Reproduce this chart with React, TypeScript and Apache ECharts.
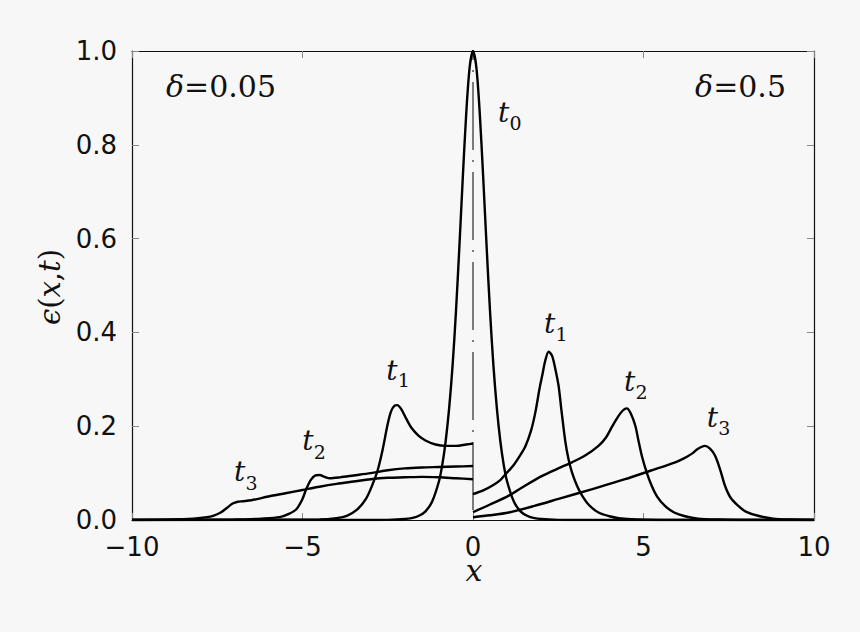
import React, { useEffect, useRef } from "react";
import * as echarts from "echarts";

// ---- data ----
const X_RANGE = [-10, 10];
const Y_RANGE = [0, 1];
const xTickValues = [-10, -5, 0, 5, 10];
const yTickValues = [0.0, 0.2, 0.4, 0.6, 0.8, 1.0];

// initial pulse t0 (both panels)
const t0: number[][] = [
  [-10, 0], [-3, 0], [-2.5, 0.0003], [-2.0, 0.002], [-1.8, 0.004], [-1.6, 0.0085], [-1.4, 0.018],
  [-1.2, 0.039], [-1.0, 0.082], [-0.9, 0.118], [-0.8, 0.169], [-0.7, 0.238], [-0.6, 0.328],
  [-0.5, 0.444], [-0.4, 0.582], [-0.3, 0.729], [-0.2, 0.865], [-0.1, 0.964], [0, 1.0],
  [0.1, 0.964], [0.2, 0.865], [0.3, 0.729], [0.4, 0.582], [0.5, 0.444], [0.6, 0.328],
  [0.7, 0.238], [0.8, 0.169], [0.9, 0.118], [1.0, 0.082], [1.2, 0.039], [1.4, 0.018],
  [1.6, 0.0085], [1.8, 0.004], [2.0, 0.002], [2.5, 0.0003], [3, 0], [10, 0],
];

// delta = 0.05 (left panel, x < 0)
const leftT1: number[][] = [
  [-10, 0], [-4.5, 0.001], [-4.0, 0.004], [-3.7, 0.009], [-3.4, 0.022], [-3.14, 0.045],
  [-2.95, 0.075], [-2.8, 0.105], [-2.65, 0.15], [-2.5, 0.205], [-2.4, 0.232], [-2.3, 0.244],
  [-2.22, 0.245], [-2.1, 0.236], [-1.95, 0.215], [-1.8, 0.196], [-1.6, 0.18], [-1.38, 0.169],
  [-1.1, 0.161], [-0.8, 0.158], [-0.5, 0.158], [-0.2, 0.161], [0, 0.163],
];
const leftT2: number[][] = [
  [-10, 0], [-7, 0.001], [-6.2, 0.003], [-5.67, 0.006], [-5.4, 0.013], [-5.18, 0.023],
  [-5.0, 0.045], [-4.89, 0.066], [-4.75, 0.086], [-4.62, 0.095], [-4.5, 0.096], [-4.35, 0.092],
  [-4.2, 0.089], [-3.9, 0.091], [-3.5, 0.095], [-3.0, 0.1], [-2.5, 0.106], [-2.0, 0.11],
  [-1.5, 0.112], [-1.0, 0.113], [-0.5, 0.114], [0, 0.115],
];
const leftT3: number[][] = [
  [-10, 0], [-8.8, 0.001], [-8.2, 0.003], [-7.8, 0.006], [-7.62, 0.009], [-7.4, 0.016],
  [-7.23, 0.025], [-7.05, 0.035], [-6.9, 0.039], [-6.75, 0.04], [-6.5, 0.042], [-6.0, 0.05],
  [-5.5, 0.057], [-5.0, 0.064], [-4.5, 0.071], [-4.0, 0.077], [-3.5, 0.082], [-3.0, 0.087],
  [-2.5, 0.09], [-2.0, 0.091], [-1.5, 0.092], [-1.0, 0.091], [-0.5, 0.089], [0, 0.087],
];

// delta = 0.5 (right panel, x > 0)
const rightT1: number[][] = [
  [0, 0.055], [0.3, 0.063], [0.56, 0.073], [0.8, 0.085], [0.96, 0.098], [1.2, 0.118],
  [1.4, 0.14], [1.54, 0.158], [1.7, 0.19], [1.83, 0.23], [1.95, 0.28], [2.03, 0.308],
  [2.12, 0.34], [2.22, 0.359], [2.32, 0.35], [2.42, 0.32], [2.51, 0.286], [2.6, 0.23],
  [2.71, 0.166], [2.8, 0.13], [2.9, 0.102], [3.05, 0.073], [3.2, 0.052], [3.4, 0.032],
  [3.68, 0.016], [4.0, 0.008], [4.27, 0.004], [4.8, 0.001], [5.5, 0], [10, 0],
];
const rightT2: number[][] = [
  [0, 0.017], [0.5, 0.033], [1.05, 0.052], [1.5, 0.072], [2.03, 0.094], [2.5, 0.11],
  [2.9, 0.123], [3.3, 0.138], [3.68, 0.158], [3.9, 0.176], [4.07, 0.198], [4.25, 0.22],
  [4.4, 0.234], [4.51, 0.238], [4.62, 0.228], [4.76, 0.201], [4.85, 0.17], [4.95, 0.137],
  [5.1, 0.1], [5.24, 0.073], [5.4, 0.05], [5.63, 0.03], [5.9, 0.016], [6.22, 0.008],
  [6.6, 0.003], [7.2, 0.001], [8, 0], [10, 0],
];
const rightT3: number[][] = [
  [0, 0.006], [0.5, 0.01], [1.05, 0.016], [1.8, 0.03], [2.51, 0.045], [3.5, 0.066],
  [4.46, 0.087], [5.2, 0.105], [5.93, 0.123], [6.2, 0.132], [6.41, 0.141], [6.6, 0.152],
  [6.8, 0.158], [6.95, 0.152], [7.1, 0.137], [7.25, 0.107], [7.39, 0.073], [7.55, 0.048],
  [7.78, 0.03], [8.0, 0.018], [8.36, 0.009], [8.8, 0.003], [9.3, 0.001], [10, 0],
];

// dash-dot separator at x = 0
const separator: number[][] = [[0, 1], [0, 0]];

const curveLabels = ["0", "1", "2", "3", "1", "2", "3"];
const panelLabels = ["0.05", "0.5"];

const BG = "#f7f7f7";
const SERIF = "DejaVu Serif";
const SANS = "DejaVu Sans";
const INK = "#111";

export default function App() {
  const ref = useRef<HTMLDivElement>(null);

  useEffect(() => {
    document.body.style.margin = "0";
    document.body.style.background = BG;
    const chart = echarts.init(ref.current!, undefined, { renderer: "svg" });

    const curve = (data: number[][]) => ({
      type: "line",
      data,
      showSymbol: false,
      symbol: "none",
      smooth: 0.3,
      lineStyle: { color: "#000", width: 2.4 },
      silent: true,
      z: 3,
    });

    const tickLabelStyle = { fontFamily: SANS, fontSize: 26, color: INK };

    // label placements (pixel layout): t-glyph x, t baseline, subscript baseline
    const tPos = [
      [499, 121.7, 130],
      [545, 333, 340.7],
      [625, 390.7, 398.3],
      [707.7, 426.7, 435],
      [387.3, 380, 386.7],
      [303.3, 450, 459],
      [235, 480.7, 490],
    ];
    const graphics: any[] = [];
    tPos.forEach((p, i) => {
      graphics.push({
        type: "text",
        x: p[0] - 1,
        y: p[1] - 9.7,
        style: {
          text: "t",
          fontFamily: SERIF,
          fontStyle: "italic",
          fontSize: 28,
          lineHeight: 22,
          fill: INK,
          align: "left",
          verticalAlign: "middle",
        },
      });
      graphics.push({
        type: "text",
        x: p[0] + 10.5,
        y: p[2] - 6.6,
        style: {
          text: curveLabels[i],
          fontFamily: SERIF,
          fontSize: 19,
          lineHeight: 15,
          fill: INK,
          align: "left",
          verticalAlign: "middle",
        },
      });
    });
    const deltaRich = {
      d: { fontFamily: SERIF, fontStyle: "italic", fontSize: 30, fill: INK },
      n: { fontFamily: SERIF, fontSize: 30, fill: INK },
    };
    graphics.push({
      type: "text",
      x: 166,
      y: 86.6,
      style: {
        text: `{d|δ}{n|=${panelLabels[0]}}`,
        rich: deltaRich,
        fontFamily: SERIF,
        fontSize: 30,
        align: "left",
        verticalAlign: "middle",
      },
    });
    graphics.push({
      type: "text",
      x: 786,
      y: 86.6,
      style: {
        text: `{d|δ}{n|=${panelLabels[1]}}`,
        rich: deltaRich,
        fontFamily: SERIF,
        fontSize: 30,
        align: "right",
        verticalAlign: "middle",
      },
    });
    // axis titles
    graphics.push({
      type: "text",
      x: 474,
      y: 570,
      style: {
        text: "x",
        fontFamily: SERIF,
        fontStyle: "italic",
        fontSize: 30,
        lineHeight: 18,
        fill: INK,
        align: "center",
        verticalAlign: "middle",
      },
    });
    const yRich = {
      i: { fontFamily: SERIF, fontStyle: "italic", fontSize: 29, fill: INK },
      r: { fontFamily: SERIF, fontSize: 29, fill: INK },
    };
    graphics.push({
      type: "text",
      x: 50,
      y: 287,
      rotation: Math.PI / 2,
      style: {
        text: "{i|ϵ}{r|(}{i|x}{r|,}{i|t}{r|)}",
        rich: yRich,
        fontFamily: SERIF,
        fontSize: 29,
        align: "center",
        verticalAlign: "middle",
      },
    });

    const tickCommon = { inside: true, length: 7, lineStyle: { color: "#888", width: 1 } };
    const lineCommon = { show: true, onZero: false, lineStyle: { color: "#111", width: 1.2 } };

    chart.setOption({
      animation: false,
      backgroundColor: BG,
      grid: { left: 132, right: 46, top: 51, bottom: 112, containLabel: false },
      xAxis: [
        {
          type: "value", min: X_RANGE[0], max: X_RANGE[1], interval: 5, position: "bottom",
          axisLine: lineCommon, axisTick: tickCommon, splitLine: { show: false },
          axisLabel: {
            ...tickLabelStyle, margin: 16, lineHeight: 22,
            formatter: (v: number) =>
              xTickValues.includes(v) ? (v < 0 ? "\u2212" + Math.abs(v) : String(v)) : "",
          },
        },
        {
          type: "value", min: X_RANGE[0], max: X_RANGE[1], interval: 5, position: "top",
          axisLine: lineCommon, axisTick: tickCommon, splitLine: { show: false },
          axisLabel: { show: false },
        },
      ],
      yAxis: [
        {
          type: "value", min: Y_RANGE[0], max: Y_RANGE[1], interval: 0.2, position: "left",
          axisLine: lineCommon, axisTick: tickCommon, splitLine: { show: false },
          axisLabel: {
            ...tickLabelStyle, margin: 15,
            formatter: (v: number) => {
              const m = yTickValues.find((t) => Math.abs(t - v) < 1e-9);
              return m === undefined ? "" : m.toFixed(1);
            },
          },
        },
        {
          type: "value", min: Y_RANGE[0], max: Y_RANGE[1], interval: 0.2, position: "right",
          axisLine: lineCommon, axisTick: tickCommon, splitLine: { show: false },
          axisLabel: { show: false },
        },
      ],
      series: [
        {
          type: "line", data: separator, showSymbol: false, symbol: "none", silent: true,
          lineStyle: { color: "#000", width: 1, type: [68, 10, 2, 10], dashOffset: 59 },
          z: 2,
        },
        curve(t0), curve(leftT1), curve(leftT2), curve(leftT3),
        curve(rightT1), curve(rightT2), curve(rightT3),
      ],
      graphic: graphics,
    });

    return () => chart.dispose();
  }, []);

  return (
    <div
      ref={ref}
      style={{ position: "absolute", left: 0, top: 0, width: 860, height: 632, background: BG }}
    />
  );
}
